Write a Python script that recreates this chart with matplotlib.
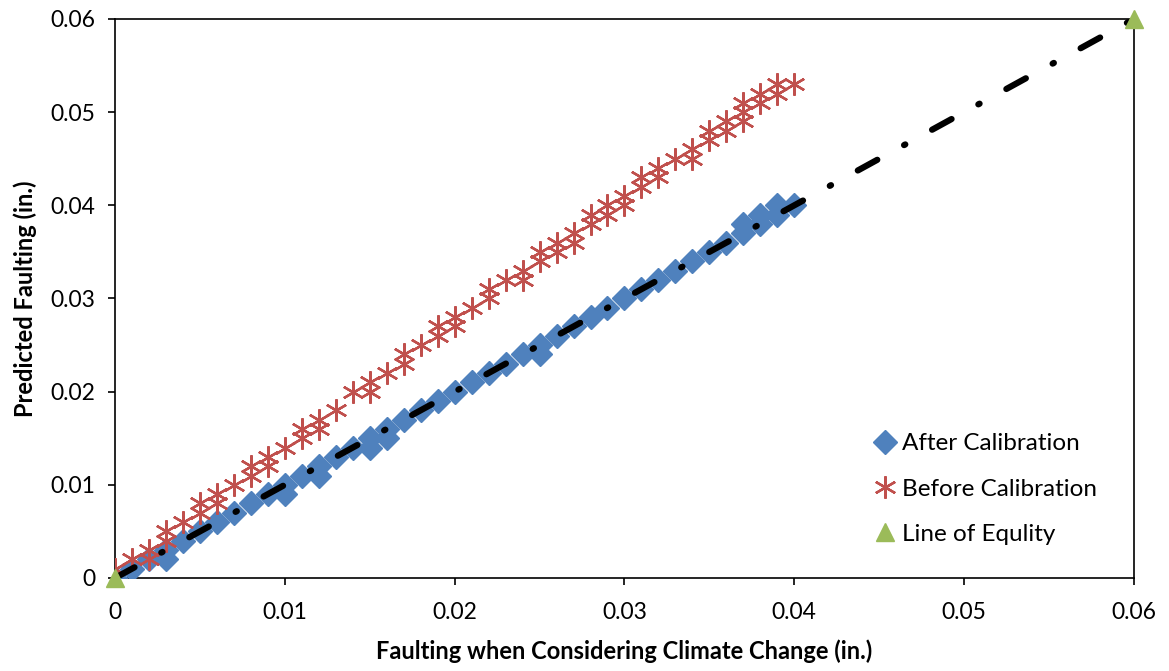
import matplotlib
matplotlib.use("Agg")
import matplotlib.pyplot as plt

# After calibration (blue diamonds)
after_x = [0, 0.001, 0.002, 0.003, 0.003, 0.004, 0.005, 0.006, 0.007, 0.008,
           0.009, 0.010, 0.010, 0.011, 0.012, 0.012, 0.013, 0.014, 0.015, 0.015,
           0.016, 0.016, 0.017, 0.018, 0.019, 0.020, 0.021, 0.022, 0.023, 0.024,
           0.025, 0.025, 0.026, 0.027, 0.028, 0.029, 0.030, 0.031, 0.032, 0.033,
           0.034, 0.035, 0.036, 0.037, 0.037, 0.038, 0.038, 0.039, 0.039, 0.040]
after_y = [0, 0.001, 0.002, 0.002, 0.003, 0.004, 0.005, 0.006, 0.007, 0.008,
           0.009, 0.009, 0.010, 0.011, 0.011, 0.012, 0.013, 0.014, 0.014, 0.015,
           0.015, 0.016, 0.017, 0.018, 0.019, 0.020, 0.021, 0.022, 0.023, 0.024,
           0.024, 0.025, 0.026, 0.027, 0.028, 0.029, 0.030, 0.031, 0.032, 0.033,
           0.034, 0.035, 0.036, 0.037, 0.038, 0.038, 0.039, 0.039, 0.040, 0.040]

# Before calibration (red stars)
before_x = [0, 0, 0.001, 0.002, 0.002, 0.003, 0.003, 0.004, 0.005, 0.005,
            0.006, 0.006, 0.007, 0.008, 0.008, 0.009, 0.009, 0.010, 0.011, 0.011,
            0.012, 0.012, 0.013, 0.014, 0.015, 0.015, 0.016, 0.017, 0.017, 0.018,
            0.019, 0.019, 0.020, 0.020, 0.021, 0.022, 0.022, 0.023, 0.024, 0.024,
            0.025, 0.025, 0.026, 0.026, 0.027, 0.027, 0.028, 0.028, 0.029, 0.029,
            0.030, 0.030, 0.031, 0.031, 0.032, 0.032, 0.033, 0.034, 0.034, 0.035,
            0.035, 0.036, 0.036, 0.037, 0.037, 0.037, 0.038, 0.038, 0.039, 0.039,
            0.040]
before_y = [0, 0.001, 0.002, 0.002, 0.003, 0.004, 0.005, 0.006, 0.007, 0.008,
            0.008, 0.009, 0.010, 0.011, 0.012, 0.012, 0.013, 0.014, 0.015, 0.016,
            0.016, 0.017, 0.018, 0.020, 0.020, 0.021, 0.022, 0.023, 0.024, 0.025,
            0.026, 0.027, 0.027, 0.028, 0.029, 0.030, 0.031, 0.032, 0.032, 0.033,
            0.034, 0.035, 0.035, 0.036, 0.036, 0.037, 0.038, 0.039, 0.039, 0.040,
            0.040, 0.041, 0.042, 0.043, 0.043, 0.044, 0.045, 0.045, 0.046, 0.047,
            0.048, 0.048, 0.049, 0.049, 0.050, 0.051, 0.051, 0.052, 0.052, 0.053,
            0.053]

# Line of equality
equal_x = [0, 0.06]
equal_y = [0, 0.06]

ticks = [0, 0.01, 0.02, 0.03, 0.04, 0.05, 0.06]
tick_labels = ["0", "0.01", "0.02", "0.03", "0.04", "0.05", "0.06"]

plt.rcParams['font.family'] = ['Lato', 'DejaVu Sans']
plt.rcParams['lines.scale_dashes'] = False

fig = plt.figure(figsize=(11.69, 6.71), dpi=100)
ax = fig.add_axes([0.0984, 0.1386, 0.8716, 0.8331])

ax.plot(after_x, after_y, linestyle='none', marker='D', markersize=12.5,
        color='#4F81BD', label='After Calibration', zorder=3)
ax.plot(before_x, before_y, linestyle='none', marker=(6, 2, 0), markersize=16,
        markeredgewidth=1.7, color='#C0504D', label='Before Calibration', zorder=4)
line, = ax.plot(equal_x, equal_y, color='black', linewidth=4.5,
                dash_capstyle='round', zorder=5)
line.set_dashes((16, 22, 1, 22))
ax.plot(equal_x, equal_y, linestyle='none', marker='^', markersize=13,
        color='#9BBB59', label='Line of Equlity', zorder=6, clip_on=False)

ax.set_xlim(0, 0.06)
ax.set_ylim(0, 0.06)
ax.set_xticks(ticks)
ax.set_xticklabels(tick_labels)
ax.set_yticks(ticks)
ax.set_yticklabels(tick_labels)
ax.tick_params(axis='both', direction='out', length=5, width=1.2,
               labelsize=16.5, color='black')
ax.tick_params(axis='x', pad=12)
ax.tick_params(axis='y', pad=9)
for s in ax.spines.values():
    s.set_linewidth(1.2)
    s.set_color('black')

ax.set_xlabel("Faulting when Considering Climate Change (in.)", fontsize=17,
              fontweight='bold', labelpad=12)
ax.set_ylabel("Predicted Faulting (in.)", fontsize=17, fontweight='bold',
              labelpad=10)

ax.legend(loc='center left', bbox_to_anchor=(0.737, 0.159), frameon=False,
          fontsize=17.5, handlelength=0.8, handletextpad=0.3, labelspacing=1.0,
          borderaxespad=0.0)

fig.savefig("out.png", dpi=100)
